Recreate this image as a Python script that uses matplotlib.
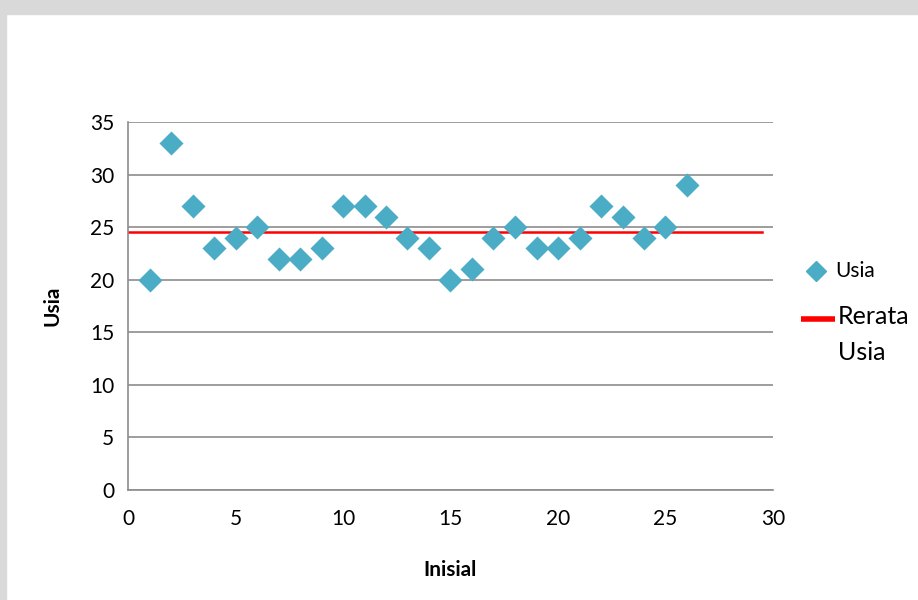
import matplotlib
matplotlib.use("Agg")
import matplotlib.pyplot as plt
from matplotlib.patches import Rectangle
from matplotlib.lines import Line2D

# data
inisial = list(range(1, 27))
usia = [20, 33, 27, 23, 24, 25, 22, 22, 23, 27, 27, 26, 24,
        23, 20, 21, 24, 25, 23, 23, 24, 27, 26, 24, 25, 29]
rerata_x = [0, 29.5]
rerata_y = [24.5, 24.5]

plt.rcParams['font.family'] = ['Lato', 'DejaVu Sans']

W, H = 918, 600
fig = plt.figure(figsize=(W / 100, H / 100), dpi=100)

def fx(px):
    return px / W

def fy(py):
    return 1 - py / H

# page background: grey band on top and left
fig.patches.append(Rectangle((0, fy(14)), 1, 14 / H, transform=fig.transFigure,
                             color="#d9d9d9", zorder=0))
fig.patches.append(Rectangle((0, 0), fx(6), 1, transform=fig.transFigure,
                             color="#d9d9d9", zorder=0))

ax = fig.add_axes([fx(128), fy(490), fx(773 - 128), (490 - 122) / H])
ax.scatter(inisial, usia, marker="D", s=150, color="#4bacc6", zorder=3, linewidths=0)
ax.plot(rerata_x, rerata_y, color="red", linewidth=1.8, zorder=2)

ax.set_xlim(0, 30)
ax.set_ylim(0, 35)
ax.set_xticks(range(0, 31, 5))
ax.set_yticks(range(0, 36, 5))
ax.grid(True, axis="y", color="#8c8c8c", linewidth=1.2)
ax.set_axisbelow(True)
for s in ("top", "right"):
    ax.spines[s].set_visible(False)
for s in ("left", "bottom"):
    ax.spines[s].set_color("#8c8c8c")
    ax.spines[s].set_linewidth(1.2)
ax.tick_params(length=0, labelsize=15, pad=14)
ax.tick_params(axis="y", pad=10)
ax.set_xlabel("Inisial", fontsize=15, fontweight="bold", labelpad=22)
ax.set_ylabel("Usia", fontsize=15, fontweight="bold", labelpad=20)

# legend, laid out like the spreadsheet one
fig.add_artist(Line2D([fx(816)], [fy(271)], marker="D", linestyle="none",
                      color="#4bacc6", markersize=10, transform=fig.transFigure))
fig.text(fx(835), fy(271), "Usia", fontsize=15, va="center", ha="left")
fig.add_artist(Line2D([fx(801), fx(835)], [fy(319), fy(319)], color="red",
                      linewidth=4, solid_capstyle="butt", transform=fig.transFigure))
fig.text(fx(838), fy(317), "Rerata", fontsize=18, va="center", ha="left")
fig.text(fx(838), fy(353), "Usia", fontsize=18, va="center", ha="left")

fig.savefig("out.png", dpi=100, facecolor="white")
